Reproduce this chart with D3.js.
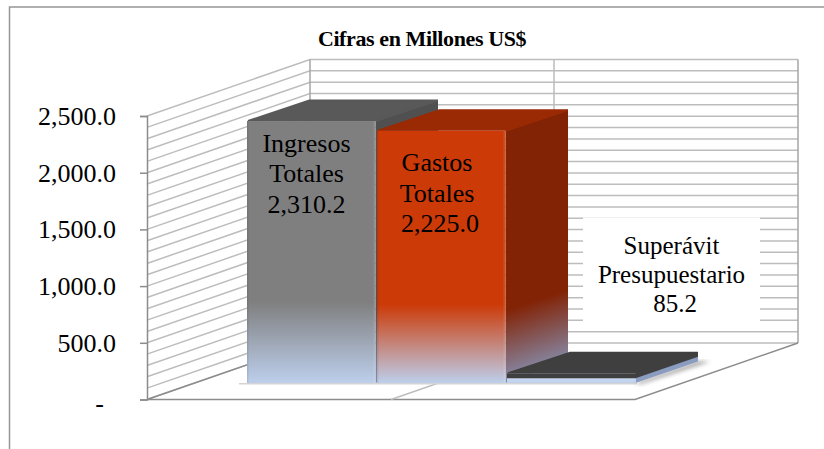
<!DOCTYPE html>
<html lang="en">
<head>
<meta charset="UTF-8">
<script src="https://d3js.org/d3.v7.min.js"></script>
<style>
  html, body { margin: 0; background: #fff; }
  svg { display: block; }
  text { font-family: "Liberation Serif", serif; fill: #000; }
</style>
</head>
<body>
<svg id="chart" width="824" height="449"></svg>
<script>
var categories = ['Ingresos Totales', 'Gastos Totales', 'Superávit Presupuestario'];
var values = [2310.2, 2225.0, 85.2];
var labels = [['Ingresos', 'Totales', '2,310.2'], ['Gastos', 'Totales', '2,225.0'], ['Superávit', 'Presupuestario', '85.2']];
var tickValues = [0, 500, 1000, 1500, 2000, 2500];
var gridValues = d3.range(0, 2501, 100);
var title = 'Cifras en Millones US$';
var frontColors = ['#7f7f7f', '#cc3a08', '#c6d6ef'];
var topColors = ['#595959', '#9a2a04', '#3f3f3f'];
var sideColors = ['#505050', '#822306', '#8a9cc0'];

var svg = d3.select('#chart');
var defs = svg.append('defs');
defs.append('filter').attr('id', 'soft').append('feGaussianBlur').attr('stdDeviation', 2);

// value scale on the front plane of the box, and the shift to the back wall
var y = d3.scaleLinear().domain([0, 2500]).range([399.5, 116]);
var wallDx = 163, wallDy = -56.5;
var x0 = 147, x1 = 635;

// bars stand on a plane pushed back from the front of the floor
var barBase = -16.5;
var barDx = 62.5, barDy = -21.5;
var xBand = d3.scaleBand().domain(categories).range([247, 637]);

svg.append('path')
  .attr('d', 'M9.5,449V7H824')
  .attr('fill', 'none').attr('stroke', '#969696').attr('stroke-width', 1.5);

svg.append('text').attr('x', 422).attr('y', 46).attr('text-anchor', 'middle')
  .attr('font-size', 22).attr('font-weight', 'bold').attr('letter-spacing', -0.4).text(title);

// walls
var grid = svg.append('g').attr('fill', 'none').attr('stroke', '#bdbdbd').attr('stroke-width', 1.5);
gridValues.forEach(function(v) {
  grid.append('path').attr('d', d3.line()([[x0, y(v)], [x0 + wallDx, y(v) + wallDy], [x1 + wallDx, y(v) + wallDy]]));
});
grid.append('path').attr('d', d3.line()([[x0 + wallDx, y(0) + wallDy], [x0 + wallDx, y(2500) + wallDy]])).attr('stroke', '#a6a6a6');
grid.append('path').attr('d', d3.line()([[(x0 + x1) / 2 + wallDx, y(0) + wallDy], [(x0 + x1) / 2 + wallDx, y(2500) + wallDy]]));
grid.append('path').attr('d', d3.line()([[x1 + wallDx, y(0) + wallDy], [x1 + wallDx, y(2500) + wallDy]])).attr('stroke', '#a6a6a6');

// floor
svg.append('path')
  .attr('d', d3.line()([[x0 + wallDx, y(0) + wallDy], [x0, y(0)], [x1, y(0)], [x1 + wallDx, y(0) + wallDy]]))
  .attr('fill', 'none').attr('stroke', '#8c8c8c').attr('stroke-width', 1.5);
svg.append('path')
  .attr('d', d3.line()([[(x0 + x1) / 2, y(0)], [(x0 + x1) / 2 + wallDx, y(0) + wallDy]]))
  .attr('fill', 'none').attr('stroke', '#bdbdbd').attr('stroke-width', 1.5);

// axis
var axis = svg.append('g').attr('transform', 'translate(' + x0 + ',0)')
  .call(d3.axisLeft(y).tickValues(tickValues).tickSize(7).tickPadding(24)
    .tickFormat(function(d) { return d === 0 ? '-' : d3.format(',.1f')(d); }));
axis.selectAll('text').attr('font-size', 26).attr('dy', '0.32em').style('font-family', '"Liberation Serif", serif');
axis.selectAll('.tick text').filter(function(d) { return d === 0; }).attr('x', -43).attr('dy', '0.48em');
axis.selectAll('line, path').attr('stroke', '#8c8c8c').attr('stroke-width', 1.5);

function frontFade(id, color) {
  var g = defs.append('linearGradient').attr('id', id).attr('x1', 0).attr('y1', 0).attr('x2', 0).attr('y2', 1);
  g.append('stop').attr('offset', 0).attr('stop-color', color);
  g.append('stop').attr('offset', 0.69).attr('stop-color', color);
  g.append('stop').attr('offset', 1).attr('stop-color', '#bdcfec');
}

// side faces fade along the perspective, so the gradient runs across it
function sideFade(id, color, right, base) {
  var run = barDx * barDx + barDy * barDy;
  var drop = 72;
  var g = defs.append('linearGradient').attr('id', id).attr('gradientUnits', 'userSpaceOnUse')
    .attr('x1', right).attr('y1', base - drop)
    .attr('x2', right - barDy * drop * barDx / run).attr('y2', base - drop + barDx * barDx * drop / run);
  g.append('stop').attr('offset', 0).attr('stop-color', color);
  g.append('stop').attr('offset', 1).attr('stop-color', '#868cab');
}

var base = y(0) + barBase;

// thin shadow line the bars stand on
svg.append('rect').attr('x', xBand.range()[0] - 8).attr('y', base).attr('width', xBand.range()[1] - xBand.range()[0] + 8).attr('height', 1.5)
  .attr('fill', '#d4d4d4');

var bars = svg.append('g').selectAll('g').data(categories).join('g');
bars.each(function(c, i) {
  var g = d3.select(this);
  var left = xBand(c), right = left + xBand.bandwidth() - 1.5;
  var top = y(values[i]) + barBase;
  var low = base - top < 20;
  var lip = low ? 5 : 0;
  frontFade('front' + i, frontColors[i]);
  sideFade('side' + i, sideColors[i], right, base);
  if (low) {
    g.append('path').attr('fill', '#444').attr('opacity', 0.55).attr('filter', 'url(#soft)')
      .attr('d', d3.line()([[right, base], [right + barDx, base + barDy], [right + barDx + 12, base + barDy], [right + 5, base + 1]]));
  }
  g.append('path').attr('fill', low ? sideColors[i] : 'url(#side' + i + ')')
    .attr('d', d3.line()([[right, top], [right + barDx, top + barDy], [right + barDx, base + barDy], [right, base]]));
  g.append('path').attr('fill', topColors[i]).attr('stroke', topColors[i]).attr('stroke-width', 2).attr('stroke-linejoin', 'round')
    .attr('d', d3.line()([[left + 1, top], [left + barDx, top + barDy + 1], [right + barDx - 1, top + barDy + 1], [right, top]]));
  g.append('rect').attr('x', left).attr('y', top).attr('width', right - left).attr('height', base - top)
    .attr('fill', 'url(#front' + i + ')');
  // rounded lip of the bar
  if (low) {
    g.append('path').attr('fill', topColors[i])
      .attr('d', d3.line()([[left, top], [right, top], [right + barDx, top + barDy], [right + barDx, top + barDy + lip], [right, top + lip], [left, top + lip]]));
  } else {
    g.append('rect').attr('x', right - 2).attr('y', top).attr('width', 2).attr('height', base - top).attr('fill', '#fff').attr('opacity', 0.1);
    g.append('rect').attr('x', left).attr('y', top).attr('width', 1.5).attr('height', base - top).attr('fill', '#000').attr('opacity', 0.08);
  }
});

// labels
var boxes = svg.append('g');
boxes.append('rect').attr('x', 583).attr('y', 217.5).attr('width', 177).attr('height', 106).attr('fill', '#fff');
var labelX = [306.5, 437, 671.5];
var labelY = [151.5, 171, 254];
var labelStep = [30.5, 30.5, 29];
var labelSize = [26, 26, 25];
var lastLineShift = [0, 3, 3.5];
labels.forEach(function(lines, i) {
  lines.forEach(function(t, k) {
    boxes.append('text').attr('x', labelX[i] + (k === 2 ? lastLineShift[i] : 0)).attr('y', labelY[i] + k * labelStep[i])
      .attr('text-anchor', 'middle').attr('font-size', labelSize[i]).text(t);
  });
});
</script>
</body>
</html>
